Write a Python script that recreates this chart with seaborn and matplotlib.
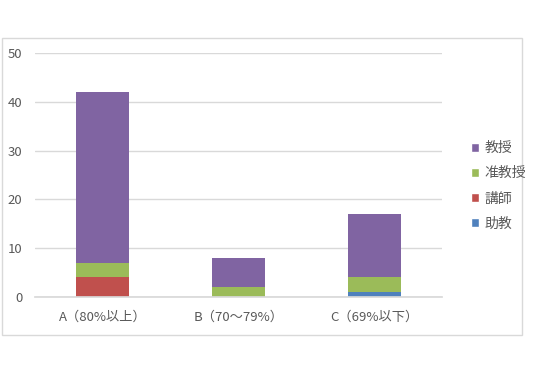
import matplotlib
matplotlib.use("Agg")
import matplotlib.pyplot as plt
from matplotlib.patches import Rectangle, Patch
import seaborn as sns
import pandas as pd

# データ
categories = ["A（80%以上）", "B（70～79%）", "C（69%以下）"]
jokyo = [0, 0, 1]        # 助教
koshi = [4, 0, 0]        # 講師
junkyoju = [3, 2, 3]     # 准教授
kyoju = [35, 6, 13]      # 教授

series = [("助教", jokyo, "#4F81BD"),
          ("講師", koshi, "#C0504D"),
          ("准教授", junkyoju, "#9BBB59"),
          ("教授", kyoju, "#8064A2")]

sns.set_theme(style="white")
plt.rcParams['font.family'] = ['Noto Sans CJK JP', 'DejaVu Sans']

fig = plt.figure(figsize=(5.4, 3.74), dpi=100)
fig.patch.set_facecolor("white")
# 外枠
fig.patches.append(Rectangle((2 / 540, 39 / 374), 520 / 540, 297 / 374,
                             transform=fig.transFigure, fill=False,
                             edgecolor="#d9d9d9", linewidth=1))

ax = fig.add_axes([35 / 540, 77 / 374, 407 / 540, 244 / 374])

bottom = [0, 0, 0]
handles = []
for name, vals, col in series:
    df = pd.DataFrame({"cat": categories, "val": vals})
    sns.barplot(data=df, x="cat", y="val", color=col, width=0.39,
                bottom=bottom, saturation=1, ax=ax, errorbar=None,
                linewidth=0)
    bottom = [b + v for b, v in zip(bottom, vals)]
    handles.append(Patch(facecolor=col, label=name))

ax.set_ylim(0, 50)
ax.set_xlim(-0.5, 2.5)
ax.set_yticks([0, 10, 20, 30, 40, 50])
ax.yaxis.grid(True, color="#d9d9d9", linewidth=1)
ax.set_axisbelow(True)
for s in ["top", "right", "left"]:
    ax.spines[s].set_visible(False)
ax.spines["bottom"].set_color("#d9d9d9")
ax.tick_params(axis="both", length=0, labelsize=9.5, colors="#595959")
ax.tick_params(axis="x", pad=10)
ax.tick_params(axis="y", pad=9)
ax.set_xlabel("")
ax.set_ylabel("")

leg = fig.legend(handles=handles[::-1], loc="center left",
                 bbox_to_anchor=(458 / 540, (374 - 186) / 374),
                 frameon=False, fontsize=10, handlelength=0.6,
                 handleheight=0.6, handletextpad=0.4, labelspacing=0.8,
                 labelcolor="#595959")

fig.savefig("out.png", dpi=100)
